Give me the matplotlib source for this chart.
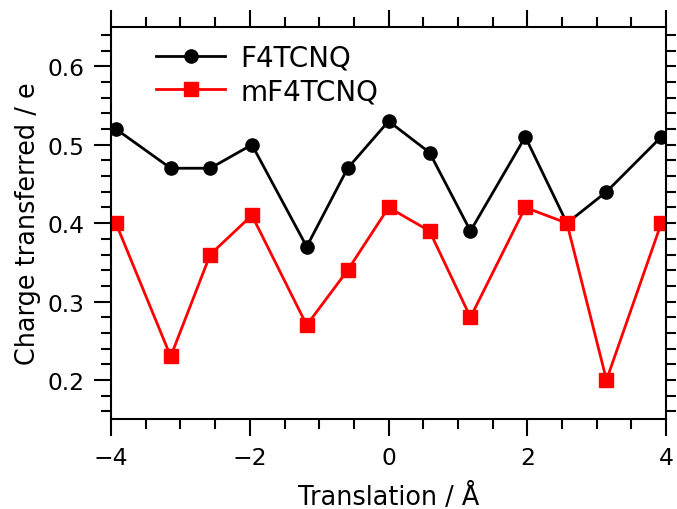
import numpy as np
import matplotlib
matplotlib.use('Agg')
import matplotlib.pyplot as plt
from matplotlib.ticker import MultipleLocator

# translation (Angstrom) and charge transferred (e)
shift = [-3.93, -3.14, -2.57, -1.97, -1.18, -0.59, 0.0, 0.59, 1.18, 1.97, 2.57, 3.14, 3.93]
f4tcnq = [0.52, 0.47, 0.47, 0.50, 0.37, 0.47, 0.53, 0.49, 0.39, 0.51, 0.40, 0.44, 0.51]
mf4tcnq = [0.40, 0.23, 0.36, 0.41, 0.27, 0.34, 0.42, 0.39, 0.28, 0.42, 0.40, 0.20, 0.40]

plt.rcParams['font.size'] = 16.8
fig = plt.figure(figsize=(6.77, 5.10), dpi=100)
ax = fig.add_axes([0.164, 0.176, 0.82, 0.769])

ax.plot(shift, f4tcnq, 'k-o', lw=2, ms=9.5, label='F4TCNQ')
ax.plot(shift, mf4tcnq, 'r-s', lw=2, ms=9.5, label='mF4TCNQ')

ax.set_xlim(-4, 4)
ax.set_ylim(0.15, 0.65)
ax.xaxis.set_major_locator(MultipleLocator(2))
ax.xaxis.set_minor_locator(MultipleLocator(0.5))
ax.yaxis.set_major_locator(MultipleLocator(0.1))
ax.yaxis.set_minor_locator(MultipleLocator(0.02))
ax.tick_params(which='both', direction='out', top=True, right=True, width=1.5)
ax.tick_params(which='major', length=12, pad=7)
ax.tick_params(which='minor', length=7)
# right side: majors drawn as short as the minors
for t in ax.yaxis.get_major_ticks():
    t.tick2line.set_markersize(7)
for s in ax.spines.values():
    s.set_linewidth(1.5)

ax.set_xlabel('Translation / Å', fontsize=18.4, labelpad=10)
ax.set_ylabel('Charge transferred / e', fontsize=18.4, labelpad=5)
ax.legend(loc='upper left', frameon=False, fontsize=20, handlelength=2.5,
          handletextpad=0.55, borderpad=0, borderaxespad=0, labelspacing=0.2,
          bbox_to_anchor=(0.081, 0.958))

fig.savefig('out.png', dpi=100)
